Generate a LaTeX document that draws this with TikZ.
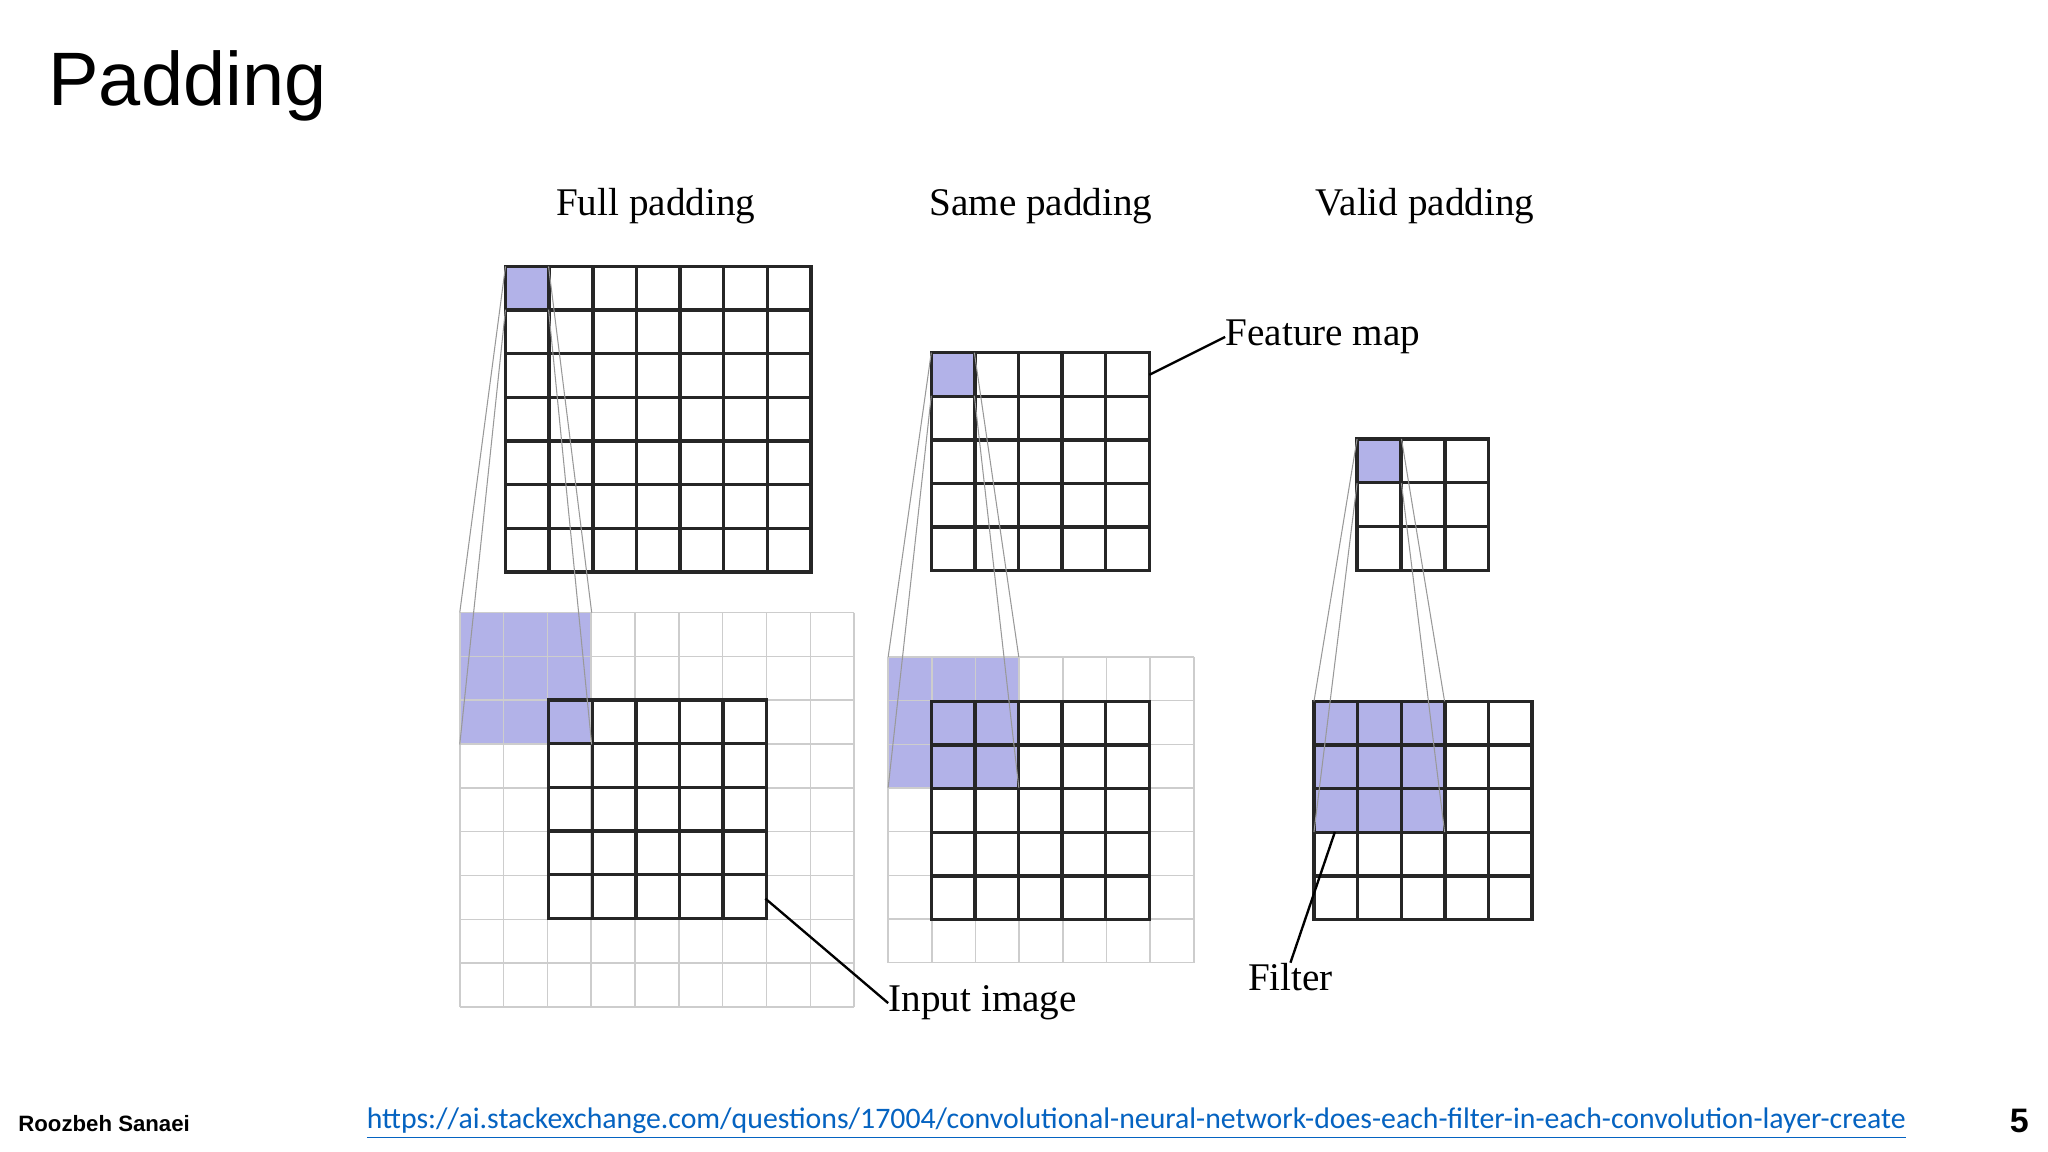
\documentclass[tikz,border=0pt]{standalone}
\usepackage{fontspec}
\setmainfont{Liberation Serif}
\newfontfamily\sansf{Liberation Sans}
\newfontfamily\linkf{Carlito}
% \cellgrid{style}{x0}{y0}{n}{cell}
\newcommand\cellgrid[5]{%
  \foreach \k in {0,...,#4}{%
    \draw[#1] ({#2+\k*#5},#3) -- ({#2+\k*#5},{#3+#4*#5});
    \draw[#1] (#2,{#3+\k*#5}) -- ({#2+#4*#5},{#3+\k*#5});
  }}
\begin{document}
\begin{tikzpicture}[x=0.5pt,y=-0.5pt]
\definecolor{fb}{RGB}{178,178,232}
\definecolor{lg}{RGB}{205,205,205}
\definecolor{lk}{RGB}{5,99,193}
\tikzset{dark/.style={line width=1.3pt,black!85,line cap=rect},light/.style={line width=0.6pt,lg},conn/.style={line width=0.4pt,black!40},lbl/.style={font=\fontsize{15}{17}\selectfont,inner sep=0pt},lead/.style={line width=0.9pt}}
\useasboundingbox (0,0) rectangle (1568,882);
\fill[white] (0,0) rectangle (1568,882);
\node[anchor=west,font=\sansf\fontsize{29}{33}\selectfont] (title) at (30,66) {Padding};
% Full padding
\node[lbl] (l1) at (502,158) {Full padding};
\fill[fb] (352,469) rectangle (453,570);
\cellgrid{light}{352}{469}{9}{33.55}
\cellgrid{dark}{420}{536}{5}{33.4}
\fill[fb] (387,204) rectangle (420,237);
\cellgrid{dark}{387}{204}{7}{33.43}
\draw[conn] (387,204)--(352,469) (420,204)--(453,469) (387,237)--(352,570) (420,237)--(453,570);
% Same padding
\node[lbl] (l2) at (797,158) {Same padding};
\fill[fb] (680,503) rectangle (780,603);
\cellgrid{light}{680}{503}{7}{33.43}
\cellgrid{dark}{713}{537}{5}{33.4}
\fill[fb] (713,270) rectangle (746,303);
\cellgrid{dark}{713}{270}{5}{33.4}
\draw[conn] (713,270)--(680,503) (746,270)--(780,503) (713,303)--(680,603) (746,303)--(780,603);
% Valid padding
\node[lbl] (l3) at (1091,158) {Valid padding};
\fill[fb] (1006,537) rectangle (1106,637);
\cellgrid{dark}{1006}{537}{5}{33.4}
\fill[fb] (1039,336) rectangle (1073,370);
\cellgrid{dark}{1039}{336}{3}{33.6}
\draw[conn] (1039,336)--(1006,537) (1073,336)--(1106,537) (1039,370)--(1006,637) (1073,370)--(1106,637);
% labels with leaders
\node[lbl,anchor=west] (fm) at (938,258) {Feature map};
\coordinate (fmp) at (880,287);
\draw[lead] (fmp)--(fm.west);
\node[lbl,anchor=west] (ii) at (680,768) {Input image};
\coordinate (iip) at (586,688);
\draw[lead] (iip)--(ii.west);
\node[lbl] (fi) at (988,748) {Filter};
\coordinate (fip) at (1022,637);
\draw[lead] (fip)--(fi.north);
% footer
\node[anchor=west,font=\sansf\bfseries\fontsize{8.5}{10}\selectfont] (au) at (7,860) {Roozbeh Sanaei};
\node[font=\linkf\fontsize{11.4}{13}\selectfont,text=lk] (url) at (870,860) {\underline{https://ai.stackexchange.com/questions/17004/convolutional-neural-network-does-each-filter-in-each-convolution-layer-create}};
\node[font=\sansf\bfseries\fontsize{13}{15}\selectfont] (pg) at (1546,858) {5};
\end{tikzpicture}
\end{document}
